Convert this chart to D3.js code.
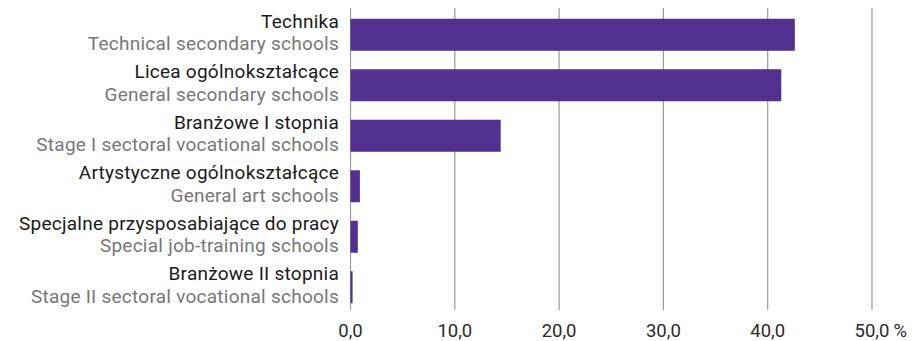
<!DOCTYPE html>
<html>
<head>
<meta charset="utf-8">
<script src="https://cdn.jsdelivr.net/npm/d3@7"></script>
<style>
  body { margin: 0; background: #fff; }
  svg { display: block; font-family: Roboto, "Open Sans", sans-serif; }
</style>
</head>
<body>
<svg id="chart" width="918" height="341"></svg>
<script>
// School types: Polish name on top, English gloss underneath.
const labelsPl = [
  'Technika',
  'Licea ogólnokształcące',
  'Branżowe I stopnia',
  'Artystyczne ogólnokształcące',
  'Specjalne przysposabiające do pracy',
  'Branżowe II stopnia'
];
const labelsEn = [
  'Technical secondary schools',
  'General secondary schools',
  'Stage I sectoral vocational schools',
  'General art schools',
  'Special job-training schools',
  'Stage II sectoral vocational schools'
];
const shares = [42.6, 41.3, 14.4, 0.9, 0.7, 0.2];
const xTicks = [0, 10, 20, 30, 40, 50];

const svg = d3.select('#chart');

const x = d3.scaleLinear().domain([0, 50]).range([350.5, 872]);
const y = d3.scaleBand()
    .domain(d3.range(labelsPl.length))
    .range([9.5, 312.5])
    .paddingInner(0.366)
    .paddingOuter(0.183);

const fmt = d => d.toFixed(1).replace('.', ',');

// gridlines
svg.append('g')
    .attr('stroke', '#9a9a9a')
    .attr('stroke-width', 1.2)
  .selectAll('line')
  .data(xTicks)
  .join('line')
    .attr('x1', d => x(d)).attr('x2', d => x(d))
    .attr('y1', 8).attr('y2', 310);

// bars
svg.append('g')
    .attr('fill', '#51308f')
  .selectAll('rect')
  .data(shares)
  .join('rect')
    .attr('x', x(0))
    .attr('y', (d, i) => y(i))
    .attr('width', d => x(d) - x(0))
    .attr('height', y.bandwidth());

// two-line category labels
const lab = svg.append('g')
    .attr('text-anchor', 'end')
    .attr('font-size', '19px')
    .attr('letter-spacing', '0.25px');

lab.selectAll('text.pl')
  .data(labelsPl)
  .join('text')
    .attr('class', 'pl')
    .attr('x', 339)
    .attr('y', (d, i) => y(i) + 8.8)
    .attr('fill', '#1a1a1a')
    .text(d => d);

lab.selectAll('text.en')
  .data(labelsEn)
  .join('text')
    .attr('class', 'en')
    .attr('x', 339)
    .attr('y', (d, i) => y(i) + 31.3)
    .attr('fill', '#777')
    .text(d => d);

// tick labels
const tick = svg.append('g')
    .attr('font-size', '18.5px')
    .attr('fill', '#2a2a2a')
    .attr('text-anchor', 'middle');

tick.selectAll('text')
  .data(xTicks)
  .join('text')
    .attr('x', d => x(d))
    .attr('y', 337)
    .text(fmt);

// unit after the last tick
const last = tick.selectAll('text').filter(d => d === 50).node();
svg.append('text')
    .attr('x', x(50) + last.getComputedTextLength() / 2 + 4)
    .attr('y', 337)
    .attr('font-size', '18.5px')
    .attr('fill', '#2a2a2a')
    .text('%');
</script>
</body>
</html>
